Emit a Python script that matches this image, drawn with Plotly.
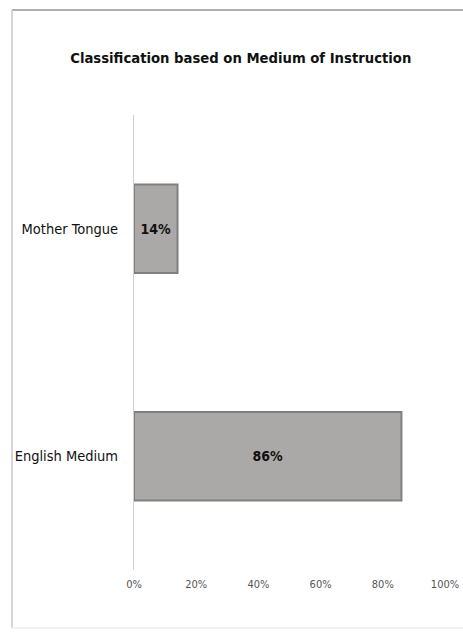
import plotly.graph_objects as go

categories = ["English Medium", "Mother Tongue"]
values = [86, 14]
tick_vals = [0, 20, 40, 60, 80, 100]
tick_text = ["0%", "20%", "40%", "60%", "80%", "100%"]
title = "Classification based on Medium of Instruction"

W, H = 463, 634
L, R, T, B = 134, 18, 115, 64
FONT = "DejaVu Sans Condensed, Liberation Sans Narrow, sans-serif"

fig = go.Figure(go.Bar(
    y=categories, x=values, orientation="h",
    marker=dict(color="#aba9a7", line=dict(color="#808080", width=2)),
    width=0.39,
    text=[f"{v}%" for v in values], textposition="inside",
    insidetextanchor="middle",
    textfont=dict(family=FONT, size=14, color="#111111", weight="bold"),
))

pw = W - L - R
ph = H - T - B
fig.update_layout(
    width=W, height=H,
    margin=dict(l=L, r=R, t=T, b=B),
    paper_bgcolor="white", plot_bgcolor="white",
    showlegend=False,
    title=dict(text=title, x=0.52, xanchor="center", y=1 - 58 / H, yanchor="middle",
               font=dict(family=FONT, size=14.7, color="#111111", weight="bold")),
    xaxis=dict(range=[0, 100], tickvals=tick_vals, ticktext=tick_text, showgrid=False,
               zeroline=False, showline=False, ticks="", automargin=False,
               ticklabelstandoff=6,
               tickfont=dict(family=FONT, size=11, color="#555555")),
    yaxis=dict(showline=True, linecolor="#d0d0d0", linewidth=1, showgrid=False, ticks="",
               ticklabelstandoff=12, automargin=False,
               tickfont=dict(family=FONT, size=14.5, color="#111111")),
    shapes=[
        dict(type="line", xref="paper", yref="paper",
             x0=(12 - L) / pw, x1=(W - L) / pw, y0=1 + (T - 10) / ph, y1=1 + (T - 10) / ph,
             line=dict(color="#b0b0b0", width=2)),
        dict(type="line", xref="paper", yref="paper",
             x0=(12 - L) / pw, x1=(12 - L) / pw, y0=1 + (T - 10) / ph, y1=-(628 - T - ph) / ph,
             line=dict(color="#c8c8c8", width=1.5)),
        dict(type="line", xref="paper", yref="paper",
             x0=(12 - L) / pw, x1=(W - L) / pw, y0=-(628 - T - ph) / ph, y1=-(628 - T - ph) / ph,
             line=dict(color="#ececec", width=1.5)),
    ],
)
fig.write_html("out.html")
